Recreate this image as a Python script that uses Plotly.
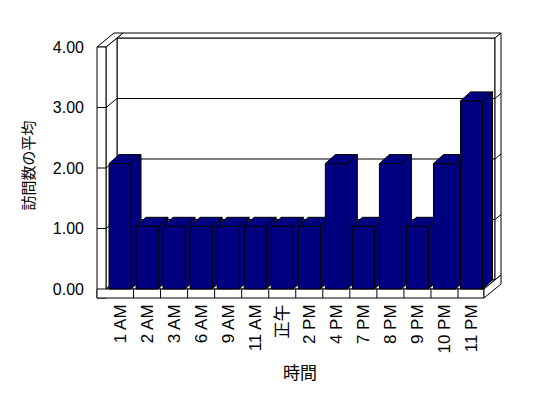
import plotly.graph_objects as go

# ---- data ----
categories = ["1 AM", "2 AM", "3 AM", "6 AM", "9 AM", "11 AM", "正午",
              "2 PM", "4 PM", "7 PM", "8 PM", "9 PM", "10 PM", "11 PM"]
visits_avg = [2, 1, 1, 1, 1, 1, 1, 1, 2, 1, 2, 1, 2, 3]
y_tick_values = [0, 1, 2, 3, 4]
y_tick_labels = ["0.00", "1.00", "2.00", "3.00", "4.00"]
x_title = "時間"
y_title = "訪問数の平均"

# ---- layout geometry (pixels) ----
W, H = 548, 398
L_PX, R_PX, T_PX, B_PX = 95, 505, 31, 300
SLOT = 27.04      # px per category
X0_PX = 120       # px centre of first category
UNIT = 62.7       # px per unit at the bar plane
Y0_PX = 289       # px of value 0
AX_UNIT = 60.5    # px per unit on the front (labelled) axis
BAR_W = 22 / SLOT
DX = 10 / SLOT    # bar depth offset
DY = 9 / UNIT

NAVY = "#000080"


def X(px):
    return (px - X0_PX) / SLOT


def Y(py):
    return (Y0_PX - py) / UNIT


x_range = [X(L_PX), X(R_PX)]
y_range = [Y(B_PX), Y(T_PX)]
y2_range = [(Y0_PX - B_PX) / AX_UNIT, (Y0_PX - T_PX) / AX_UNIT]


def path(points, close=True):
    s = "M " + " L ".join(f"{X(a):.5f},{Y(b):.5f}" for a, b in points)
    return s + (" Z" if close else "")


shapes = []


def add_poly(points, fill="white"):
    shapes.append(dict(type="path", xref="x", yref="y", path=path(points),
                       fillcolor=fill, line=dict(color="black", width=1),
                       layer="below"))


def add_line(points):
    shapes.append(dict(type="path", xref="x", yref="y", path=path(points, close=False),
                       line=dict(color="black", width=1), layer="below"))


# frame: back wall, left wall, floor (3D box)
TOP = Y0_PX - 4 * AX_UNIT     # 47
WL, WR = 97, 106              # left wall front face
FR = 484                      # floor front right end
D1 = (11, -9)                 # front -> back wall front plane
D2 = (17, -14)                # front -> back of back wall
FB = 298                      # floor bottom

# back wall front face
add_poly([(WR + D1[0], TOP + D1[1]), (FR + D1[0], TOP + D1[1]),
          (FR + D1[0], Y0_PX + D1[1]), (WR + D1[0], Y0_PX + D1[1])])
# back wall top face
add_poly([(WR + D1[0], TOP + D1[1]), (WR + D2[0], TOP + D2[1]),
          (FR + D2[0], TOP + D2[1]), (FR + D1[0], TOP + D1[1])])
# back wall right face
add_poly([(FR + D1[0], TOP + D1[1]), (FR + D2[0], TOP + D2[1]),
          (FR + D2[0], Y0_PX + D2[1]), (FR + D1[0], Y0_PX + D1[1])])
# left wall inner face
add_poly([(WR, TOP), (WR + D1[0], TOP + D1[1]),
          (WR + D1[0], Y0_PX + D1[1]), (WR, Y0_PX)])
# left wall top face
add_poly([(WL, TOP), (WR, TOP), (WR + D2[0], TOP + D2[1]), (WL + D2[0], TOP + D2[1])])
# left wall front face
add_poly([(WL, TOP), (WR, TOP), (WR, FB), (WL, FB)])
# floor top face
add_poly([(WR, Y0_PX), (WR + D1[0], Y0_PX + D1[1]),
          (FR + D1[0], Y0_PX + D1[1]), (FR, Y0_PX)])
# floor front face
add_poly([(WL, Y0_PX), (FR, Y0_PX), (FR, FB), (WL, FB)])
# floor right face
add_poly([(FR, Y0_PX), (FR + D2[0], Y0_PX + D2[1]),
          (FR + D2[0], FB + D2[1]), (FR, FB)])

# gridlines on walls
for v in y_tick_values[1:-1]:
    yy = Y0_PX - v * AX_UNIT
    add_line([(WL, yy), (WR, yy), (WR + D1[0], yy + D1[1]),
              (FR + D1[0], yy + D1[1]), (FR + D2[0], yy + D2[1])])

# category separators on floor front
for i in range(len(categories) - 1):
    xs = X0_PX + SLOT * (i + 0.5)
    add_line([(xs, Y0_PX), (xs, FB)])

fig = go.Figure()

idx = list(range(len(categories)))

# side faces (behind fronts)
for i, v in enumerate(visits_avg):
    r = i + BAR_W / 2
    fig.add_trace(go.Scatter(
        x=[r, r + DX, r + DX, r, r], y=[v, v + DY, DY, 0, v],
        mode="lines", fill="toself", fillcolor=NAVY,
        line=dict(color="black", width=1), hoverinfo="skip",
        showlegend=False, zorder=0))

# front faces
fig.add_trace(go.Bar(
    x=idx, y=visits_avg, width=BAR_W,
    marker=dict(color=NAVY, line=dict(color="black", width=1)),
    hoverinfo="skip", showlegend=False, zorder=1))

# top faces (clipped by a taller right neighbour)
for i, v in enumerate(visits_avg):
    l = i - BAR_W / 2
    r = i + BAR_W / 2
    xs = [l, l + DX, r + DX, r, l]
    ys = [v, v + DY, v + DY, v, v]
    if i + 1 < len(visits_avg) and visits_avg[i + 1] > v:
        Lc = (i + 1) - BAR_W / 2
        s = (Lc - r) / DX
        xs = [l, l + DX, Lc, Lc, r, l]
        ys = [v, v + DY, v + DY, v + s * DY, v, v]
    fig.add_trace(go.Scatter(
        x=xs, y=ys, mode="lines", fill="toself", fillcolor=NAVY,
        line=dict(color="black", width=1), hoverinfo="skip",
        showlegend=False, zorder=2))

# dummy trace for the labelled value axis
fig.add_trace(go.Scatter(x=[0], y=[0], yaxis="y2", mode="markers",
                         marker=dict(opacity=0), hoverinfo="skip", showlegend=False))

font_num = "Liberation Sans, Arial, Noto Sans CJK JP, sans-serif"
font_jp = "Noto Sans CJK JP, sans-serif"

fig.update_layout(
    width=W, height=H,
    margin=dict(l=L_PX, r=W - R_PX, t=T_PX, b=H - B_PX, pad=0),
    paper_bgcolor="white", plot_bgcolor="white",
    shapes=shapes, showlegend=False, hovermode=False,
    barmode="overlay",
    xaxis=dict(range=x_range, tickmode="array", tickvals=idx, ticktext=categories,
               tickangle=-90, ticks="", showgrid=False, zeroline=False, showline=False,
               tickfont=dict(family=font_num, size=17, color="black"),
               ticklabelstandoff=0,
               title=dict(text=x_title, font=dict(family=font_jp, size=17, color="black"),
                          standoff=14),
               fixedrange=True),
    yaxis=dict(range=y_range, showticklabels=False, showgrid=False, zeroline=False,
               showline=False, ticks="", fixedrange=True),
    yaxis2=dict(range=y2_range, overlaying="y", side="left", tickmode="array",
                tickvals=y_tick_values, ticktext=y_tick_labels, ticks="",
                showgrid=False, zeroline=False, showline=False,
                tickfont=dict(family=font_num, size=16, color="black"),
                ticklabelstandoff=10,
                title=dict(text=y_title, font=dict(family=font_jp, size=15, color="black"),
                           standoff=14),
                fixedrange=True),
)

fig.write_html("out.html")
